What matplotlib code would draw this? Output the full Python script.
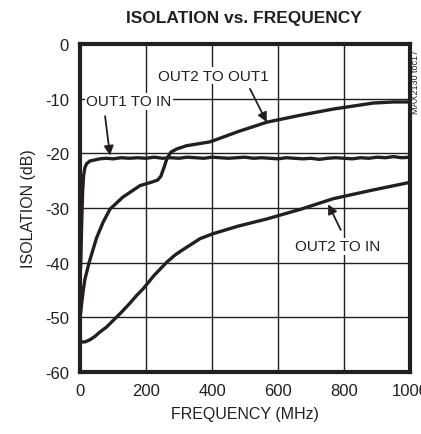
import matplotlib.pyplot as plt
from matplotlib import font_manager

# fonts: narrow sans like the datasheet, fall back to DejaVu
names = {f.name for f in font_manager.fontManager.ttflist}
narrow = 'Liberation Sans Narrow' if 'Liberation Sans Narrow' in names else 'Liberation Sans'
plt.rcParams['font.family'] = [narrow, 'DejaVu Sans']

# data (MHz, dB)
f_out1_in = [2, 5, 8, 11, 15, 20, 30, 45, 60, 80, 100, 125, 150, 175, 200, 225, 250, 275,
             300, 325, 350, 375, 400, 425, 450, 475, 500, 525, 550, 575, 600, 625, 650,
             675, 700, 725, 750, 775, 800, 825, 850, 875, 900, 925, 950, 975, 1000]
v_out1_in = [-41, -33, -27, -24, -22.6, -21.9, -21.4, -21.2, -21.0, -20.9, -21.0, -20.8,
             -20.9, -20.8, -20.9, -20.7, -20.9, -20.8, -20.9, -20.7, -20.8, -20.9, -20.7,
             -20.8, -20.9, -20.8, -20.7, -20.9, -20.8, -20.9, -21.0, -20.8, -20.9, -21.0,
             -20.9, -21.1, -20.9, -20.8, -20.9, -21.0, -20.8, -20.9, -20.7, -20.8, -20.6,
             -20.8, -20.7]

f_out2_out1 = [0, 5, 10, 15, 28, 50, 70, 91, 130, 182, 215, 235, 245, 255, 263, 275, 293,
               323, 394, 480, 566, 670, 767, 888, 950, 1000]
v_out2_out1 = [-50.3, -47.5, -45, -43, -39.9, -35.5, -32.6, -30.2, -28, -25.9, -25.3,
               -24.9, -24.2, -22.5, -21, -19.8, -19.2, -18.6, -17.9, -16.0, -14.3, -13.0,
               -11.9, -10.8, -10.6, -10.6]

f_out2_in = [0, 15, 30, 45, 60, 80, 100, 125, 150, 170, 191, 225, 263, 290, 320, 364,
             403, 480, 566, 670, 767, 880, 1000]
v_out2_in = [-54.5, -54.5, -54.1, -53.5, -52.7, -51.8, -50.6, -49.1, -47.5, -46.1, -44.8,
             -42.3, -39.9, -38.5, -37.3, -35.6, -34.7, -33.3, -32, -30.2, -28.3, -26.8, -25.3]

x_ticks = [0, 200, 400, 600, 800, 1000]
y_ticks = [0, -10, -20, -30, -40, -50, -60]

ink = '#231f20'

fig = plt.figure(figsize=(4.21, 4.35), dpi=100)
ax = fig.add_axes([0.190, 0.1425, 0.784, 0.754])

ax.plot(f_out1_in, v_out1_in, color=ink, lw=2.4, solid_capstyle='butt')
ax.plot(f_out2_out1, v_out2_out1, color=ink, lw=2.4)
ax.plot(f_out2_in, v_out2_in, color=ink, lw=2.4)

ax.set_xlim(0, 1000)
ax.set_ylim(-60, 0)
ax.set_xticks(x_ticks)
ax.set_yticks(y_ticks)
ax.set_xticklabels([str(t) for t in x_ticks])
ax.set_yticklabels([str(t) for t in y_ticks])
ax.grid(True, color=ink, lw=1.0)
ax.tick_params(length=0, labelsize=12, pad=8, colors=ink)
for s in ax.spines.values():
    s.set_linewidth(3)
    s.set_color(ink)

ax.set_xlabel('FREQUENCY (MHz)', fontsize=11.5, color=ink, labelpad=6)
ax.set_ylabel('ISOLATION (dB)', fontsize=11.5, color=ink, labelpad=6)
fig.text(0.58, 0.957, 'ISOLATION vs. FREQUENCY', ha='center', va='center',
         fontsize=12.5, fontweight='bold', color=ink)
fig.text(0.988, 0.885, 'MAX2130 toc17', rotation=90, ha='center', va='top',
         fontsize=6.5, color=ink)

arrow = dict(arrowstyle='-|>', color=ink, lw=1.3, mutation_scale=14, shrinkA=0, shrinkB=0)
ax.text(403, -5.8, 'OUT2 TO OUT1', fontsize=11, color=ink, ha='center', va='center',
        bbox=dict(facecolor='white', edgecolor='none', pad=1))
ax.annotate('', xy=(566, -14.3), xytext=(515, -8.2), arrowprops=arrow)
ax.text(148, -10.5, 'OUT1 TO IN', fontsize=11, color=ink, ha='center', va='center',
        bbox=dict(facecolor='white', edgecolor='none', pad=1))
ax.annotate('', xy=(91, -20.4), xytext=(76, -13.2), arrowprops=arrow)
ax.text(780, -37.0, 'OUT2 TO IN', fontsize=11, color=ink, ha='center', va='center',
        bbox=dict(facecolor='white', edgecolor='none', pad=1))
ax.annotate('', xy=(752, -29.3), xytext=(790, -34.0), arrowprops=arrow)

fig.savefig('out.png', dpi=100)
